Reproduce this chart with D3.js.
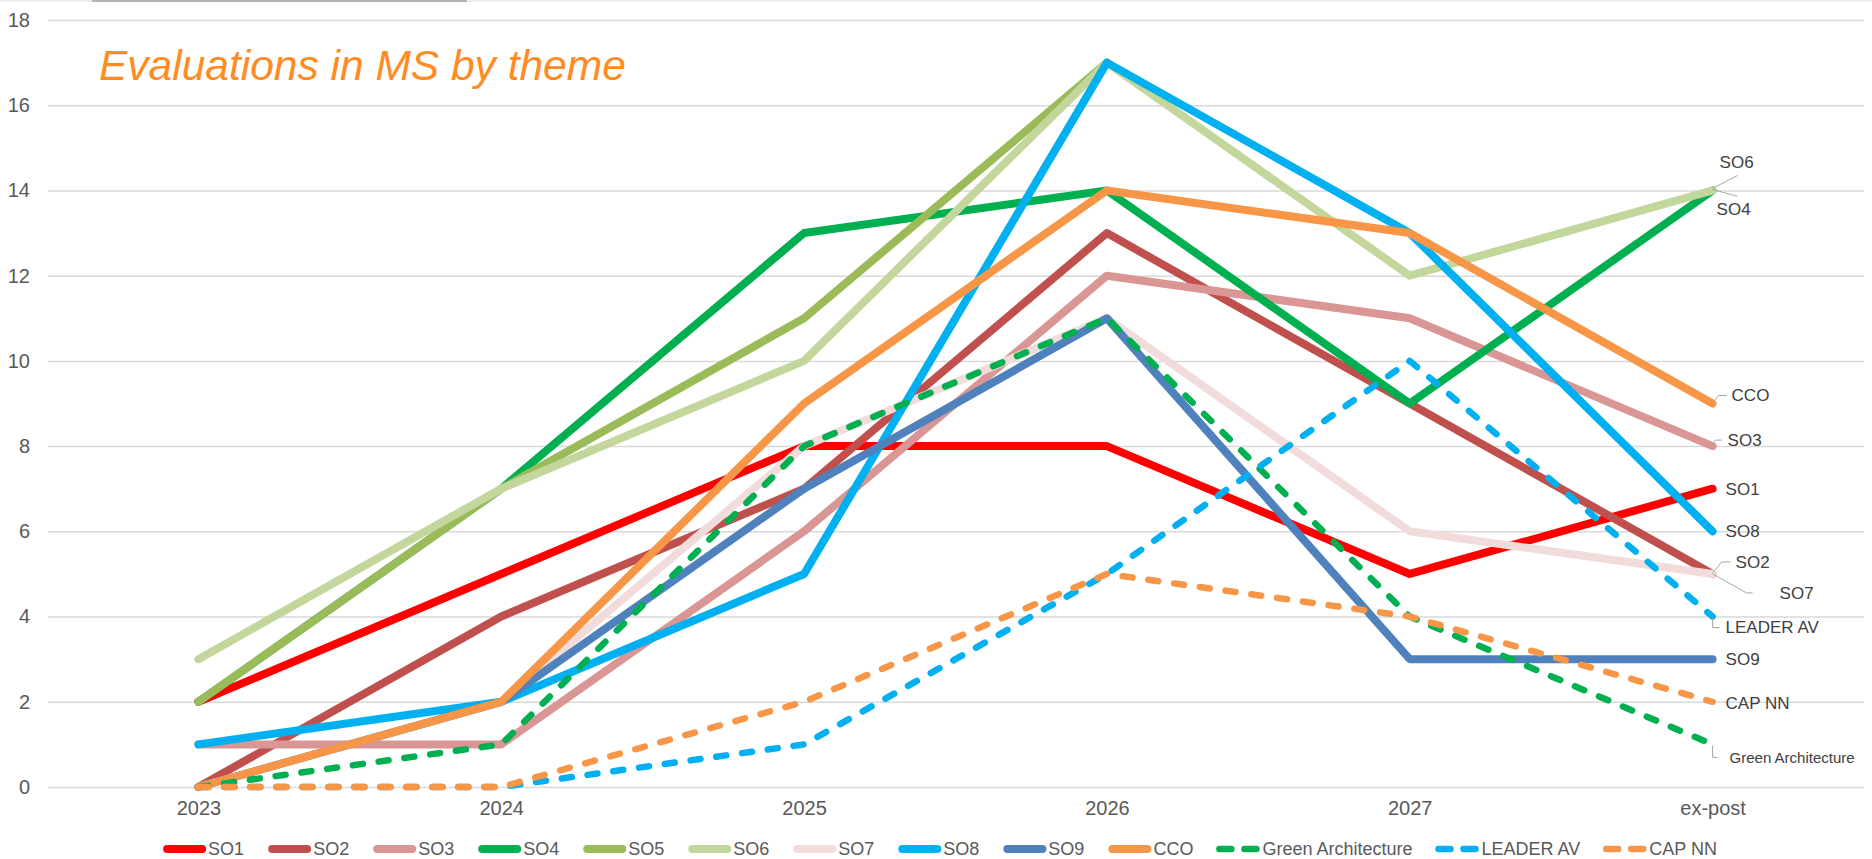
<!DOCTYPE html>
<html>
<head>
<meta charset="utf-8">
<script src="https://cdn.jsdelivr.net/npm/d3@7/dist/d3.min.js"></script>
<style>
    html, body { margin: 0; padding: 0; background: #fff; }
    svg { display: block; font-family: "Liberation Sans", Arial, sans-serif; }
</style>
</head>
<body>
<div id="chart"></div>
<script>
// categories and tick labels
var years = ["2023", "2024", "2025", "2026", "2027", "ex-post"];
var yTicks = [0, 2, 4, 6, 8, 10, 12, 14, 16, 18];

// series values (null = no value)
var so1 = [2, 5, 8, 8, 5, 7];
var so2 = [0, 4, 7, 13, 9, 5];
var so3 = [1, 1, 6, 12, 11, 8];
var so4 = [2, 7, 13, 14, 9, 14];
var so5 = [2, 7, 11, 17, null, null];
var so6 = [3, 7, 10, 17, 12, 14];
var so7 = [0, 2, 8, 11, 6, 5];
var so8 = [1, 2, 5, 17, 13, 6];
var so9 = [0, 2, 7, 11, 3, 3];
var cco = [0, 2, 9, 14, 13, 9];
var greenArch = [0, 1, 8, 11, 4, 1];
var leaderAv = [0, 0, 1, 5, 10, 4];
var capNn = [0, 0, 2, 5, 4, 2];

var seriesNames = ["SO1", "SO2", "SO3", "SO4", "SO5", "SO6", "SO7", "SO8", "SO9", "CCO",
    "Green Architecture", "LEADER AV", "CAP NN"];
var seriesValues = [so1, so2, so3, so4, so5, so6, so7, so8, so9, cco, greenArch, leaderAv, capNn];

// styles
var colors = ["#FF0000", "#C0504D", "#D99694", "#00B050", "#9BBB59", "#C3D69B", "#F2DCDB",
    "#00B0F0", "#4F81BD", "#F79646", "#00B050", "#00B0F0", "#F79646"];
var dashed = [false, false, false, false, false, false, false, false, false, false, true, true, true];

// end labels: offset of text from last point, plus leader line offsets
var endLabels = {
    "SO6": {dx: 7, dy: -28, lead: [[0, -2], [25, -15]]},
    "SO4": {dx: 4, dy: 19, lead: [[0, -1], [25, 6]]},
    "CCO": {dx: 19, dy: -8, lead: [[0, -1], [6, -8], [14, -8]]},
    "SO3": {dx: 15, dy: -6, lead: [[0, -2], [3, -6], [9, -6]]},
    "SO1": {dx: 13, dy: 0},
    "SO8": {dx: 13, dy: 0},
    "SO2": {dx: 23, dy: -12, lead: [[0, -1], [9, -12], [18, -12]]},
    "SO7": {dx: 67, dy: 19, lead: [[0, 0], [34, 19], [40, 19]]},
    "LEADER AV": {dx: 13, dy: 10, lead: [[0, 1], [0, 11], [7, 11]]},
    "SO9": {dx: 13, dy: 0},
    "CAP NN": {dx: 13, dy: 1},
    "Green Architecture": {dx: 17, dy: 13, size: 15, lead: [[0, 1], [0, 13], [5, 13]]}
};

var width = 1872, height = 859;

var svg = d3.select("#chart").append("svg")
    .attr("width", width)
    .attr("height", height);

var x = d3.scalePoint().domain(years).range([47, 1864]).padding(0.5);
var y = d3.scaleLinear().domain([0, 18]).range([787, 20]);

// faint frame top
svg.append("line")
    .attr("x1", 0).attr("x2", width).attr("y1", 1).attr("y2", 1)
    .attr("stroke", "#E8E8E8").attr("stroke-width", 1.5);
svg.append("rect")
    .attr("x", 92).attr("y", 0).attr("width", 375).attr("height", 2)
    .attr("fill", "#B4B4B4");

// gridlines + y labels
var yAxis = d3.axisLeft(y).tickValues(yTicks).tickSize(-(1864 - 48)).tickPadding(18);
var gy = svg.append("g").attr("transform", "translate(48,0)").call(yAxis);
gy.select(".domain").remove();
gy.selectAll(".tick line").attr("stroke", "#D9D9D9").attr("stroke-width", 1.5);
gy.selectAll(".tick text")
    .attr("fill", "#595959")
    .style("font-size", "20px")
    .attr("x", -18);

// x labels
var xAxis = d3.axisBottom(x).tickSize(0).tickPadding(0);
var gx = svg.append("g").attr("transform", "translate(0,808)").call(xAxis);
gx.select(".domain").remove();
gx.selectAll(".tick text")
    .attr("fill", "#595959")
    .style("font-size", "20px")
    .attr("dy", "0.35em");

// title
svg.append("text")
    .attr("x", 99).attr("y", 80)
    .attr("fill", "#FF8B22")
    .style("font-size", "42.5px")
    .style("font-style", "italic")
    .text("Evaluations in MS by theme");

// lines
var line = d3.line()
    .defined(function (d) { return d != null; })
    .x(function (d, i) { return x(years[i]); })
    .y(function (d) { return y(d); });

seriesNames.forEach(function (name, k) {
    svg.append("path")
        .datum(seriesValues[k])
        .attr("fill", "none")
        .attr("stroke", colors[k])
        .attr("stroke-width", dashed[k] ? 6.5 : 8)
        .attr("stroke-linecap", "round")
        .attr("stroke-linejoin", "round")
        .attr("stroke-dasharray", dashed[k] ? "10,16" : null)
        .attr("d", line);
});

// end labels
var labelG = svg.append("g");
seriesNames.forEach(function (name, k) {
    var lab = endLabels[name];
    if (!lab) return;
    var vals = seriesValues[k];
    var last = vals.length - 1;
    var px = x(years[last]), py = y(vals[last]);
    if (lab.lead) {
        labelG.append("polyline")
            .attr("points", lab.lead.map(function (p) { return (px + p[0]) + "," + (py + p[1]); }).join(" "))
            .attr("fill", "none")
            .attr("stroke", "#A6A6A6")
            .attr("stroke-width", 1);
    }
    labelG.append("text")
        .attr("x", px + lab.dx)
        .attr("y", py + lab.dy)
        .attr("dy", "0.35em")
        .attr("fill", "#404040")
        .style("font-size", (lab.size || 17) + "px")
        .text(name);
});

// legend
var legend = svg.append("g").attr("transform", "translate(0,849)");
var lx = 0;
seriesNames.forEach(function (name, k) {
    var item = legend.append("g").attr("transform", "translate(" + lx + ",0)");
    if (dashed[k]) {
        [[2, 14], [27, 39]].forEach(function (seg) {
            item.append("line")
                .attr("x1", seg[0]).attr("x2", seg[1]).attr("y1", 0).attr("y2", 0)
                .attr("stroke", colors[k]).attr("stroke-width", 6.5)
                .attr("stroke-linecap", "round");
        });
    } else {
        item.append("line")
            .attr("x1", 4).attr("x2", 39).attr("y1", 0).attr("y2", 0)
            .attr("stroke", colors[k]).attr("stroke-width", 8)
            .attr("stroke-linecap", "round");
    }
    var t = item.append("text")
        .attr("x", 45).attr("dy", "0.35em")
        .attr("fill", "#595959")
        .style("font-size", "18px")
        .text(name);
    lx += 45 + t.node().getComputedTextLength() + 24;
});
var legendW = lx - 24;
legend.attr("transform", "translate(" + (940 - legendW / 2) + ",849)");
</script>
</body>
</html>
